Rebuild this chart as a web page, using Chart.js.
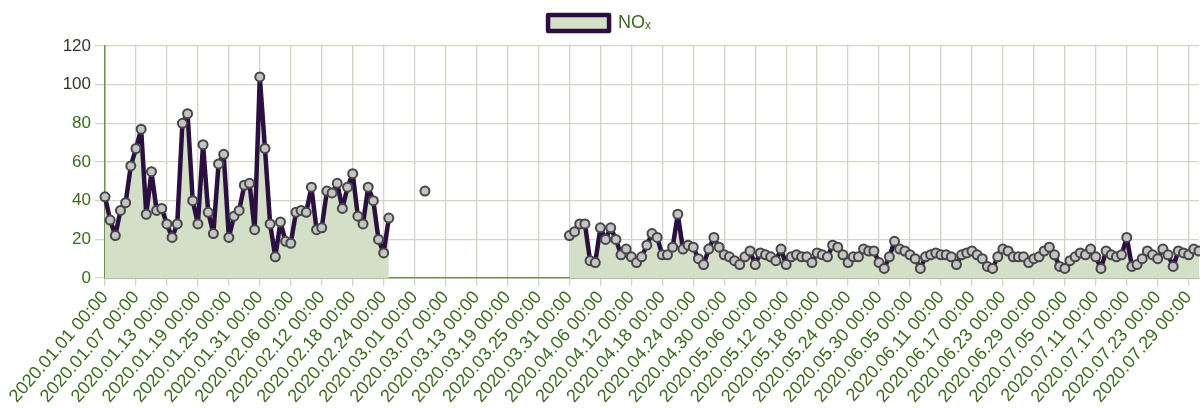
<!DOCTYPE html>
<html>
<head>
<meta charset="utf-8">
<script src="https://cdn.jsdelivr.net/npm/chart.js@4.4.0/dist/chart.umd.min.js"></script>
<style>
  html, body { margin:0; padding:0; background:#fff; overflow:hidden; }
  #wrap { width:1214px; height:408px; }
</style>
</head>
<body>
<div id="wrap"><canvas id="chartNox" width="1214" height="408"></canvas></div>
<script>
// daily categories 2020.01.01 .. 2020.07.31
const startDay = new Date(2020, 0, 1);
const dayCount = 213;
const days = [];
for (let i = 0; i < dayCount; i++) {
  const d = new Date(startDay.getFullYear(), startDay.getMonth(), startDay.getDate() + i);
  const p = n => String(n).padStart(2, '0');
  days.push(d.getFullYear() + '.' + p(d.getMonth() + 1) + '.' + p(d.getDate()) + ' 00:00');
}

const seriesName = 'NOₓ';

// NOx values, one per day (null = no measurement)
const nox = [
  42,30,22,35,39,58,67,77,33,55,
  35,36,28,21,28,80,85,40,28,69,
  34,23,59,64,21,32,35,48,49,25,
  104,67,28,11,29,19,18,34,35,34,
  47,25,26,45,44,49,36,47,54,32,
  28,47,40,20,13,31,null,null,null,null,
  null,null,45,null,null,null,null,null,null,null,
  null,null,null,null,null,null,null,null,null,null,
  null,null,null,null,null,null,null,null,null,null,
  22,24,28,28,9,8,26,20,26,20,
  12,15,11,8,11,17,23,21,12,12,
  16,33,15,17,16,10,7,15,21,16,
  12,11,9,7,11,14,7,13,12,11,
  9,15,7,11,12,11,11,8,13,12,
  11,17,16,12,8,11,11,15,14,14,
  8,5,11,19,15,14,12,10,5,11,
  12,13,12,12,11,7,12,13,14,12,
  10,6,5,11,15,14,11,11,11,8,
  10,11,14,16,12,6,5,9,11,13,
  12,15,11,5,14,12,11,12,21,6,
  7,10,14,12,10,15,12,6,14,13,
  12,15,14
];

const yTicks = [0, 20, 40, 60, 80, 100, 120];
const labelEvery = 6;

const green = '#3b6a1e';
const gridCol = '#cfd7c4';
const axisCol = '#6f9150';
const font = 'Liberation Sans, Arial, sans-serif';

// a bit more room under the legend
const legendGap = {
  id: 'legendGap',
  beforeInit(chart) {
    const fit = chart.legend.fit;
    chart.legend.fit = function() { fit.bind(chart.legend)(); this.height += 4; };
  }
};

const ctx = document.getElementById('chartNox').getContext('2d');
new Chart(ctx, {
  type: 'line',
  data: {
    labels: days,
    datasets: [{
      label: seriesName,
      data: nox,
      borderColor: '#2b0f40',
      borderWidth: 4.5,
      borderJoinStyle: 'round',
      borderCapStyle: 'round',
      backgroundColor: '#d3dfc6',
      fill: 'origin',
      tension: 0,
      spanGaps: false,
      pointRadius: 4.5,
      pointBorderWidth: 2,
      pointBackgroundColor: '#c4c4c4',
      pointBorderColor: '#464646'
    }]
  },
  plugins: [legendGap],
  options: {
    responsive: false,
    animation: false,
    layout: { padding: { left: 0, right: 15, top: 0, bottom: 0 } },
    plugins: {
      legend: {
        display: true,
        labels: {
          color: green,
          boxWidth: 61,
          boxHeight: 16,
          padding: 14,
          font: { family: font, size: 18 }
        }
      },
      tooltip: { enabled: false }
    },
    scales: {
      x: {
        grid: { color: gridCol, lineWidth: 1.3, tickLength: 8, drawTicks: true },
        border: { color: axisCol, width: 1.5 },
        ticks: {
          autoSkip: false,
          minRotation: 49,
          maxRotation: 49,
          color: green,
          padding: 1,
          font: { family: font, size: 18 },
          callback: function(v, i) { return i % labelEvery === 0 ? days[i] : null; }
        }
      },
      y: {
        min: yTicks[0],
        max: yTicks[yTicks.length - 1],
        afterBuildTicks: s => { s.ticks = yTicks.map(v => ({ value: v })); },
        afterFit: s => { s.width = 105; },
        grid: { color: gridCol, lineWidth: 1.3, tickLength: 10 },
        border: { color: axisCol, width: 1.5 },
        ticks: {
          color: c => (c.tick && c.tick.value >= 100 ? '#2f3a29' : green),
          padding: 4,
          font: { family: font, size: 17 }
        }
      }
    }
  }
});
</script>
</body>
</html>
